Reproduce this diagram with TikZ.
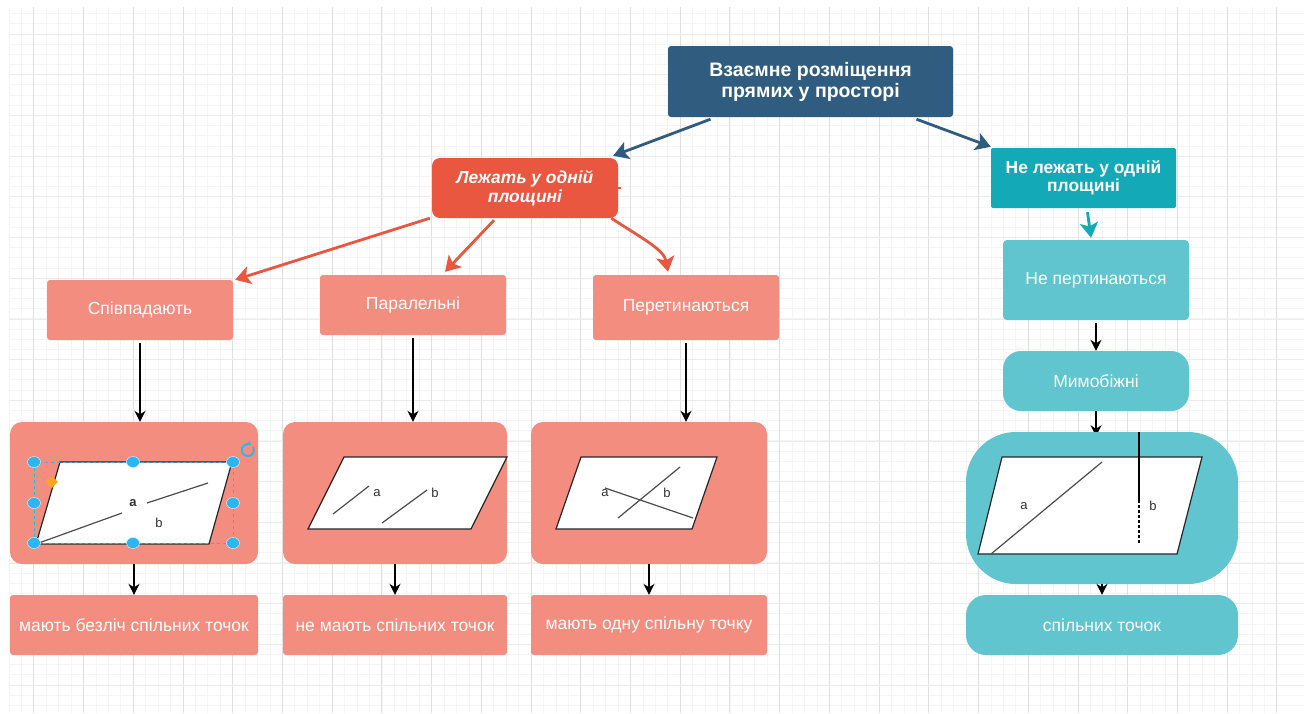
\documentclass[tikz,border=0pt]{standalone}
\usepackage{fontspec}
\setmainfont{Liberation Sans}
\usetikzlibrary{arrows.meta,shapes.geometric}
\definecolor{navy}{HTML}{2F5C7F}
\definecolor{redbox}{HTML}{E95741}
\definecolor{salmon}{HTML}{F28D80}
\definecolor{tealdark}{HTML}{13A9B7}
\definecolor{teallight}{HTML}{60C5CF}
\definecolor{handle}{HTML}{29B6F2}
\definecolor{tipcolor}{HTML}{F9A61A}
\tikzset{
  box/.style={inner sep=0pt,align=center,text=white,font=\fontsize{17.5}{21}\selectfont},
  headbox/.style={box,font=\fontsize{19.5}{21}\selectfont\bfseries},
  saltbox/.style={box,fill=salmon,rounded corners=3pt},
  tealbox/.style={box,fill=teallight},
  plane/.style={draw=black!85,fill=white,line width=1.2pt,line join=miter},
  inplane/.style={draw=black!70,line width=1.2pt},
  lab/.style={inner sep=0pt,text=black!80,font=\fontsize{13}{14}\selectfont},
  thinarrow/.style={-{Stealth[length=11pt,width=11pt]},line width=1.2pt},
  bigarrow/.style={-{Stealth[length=15pt,width=18pt,inset=3.5pt]},line width=2.8pt},
  dot/.style={draw=white!80!handle,fill=handle,ellipse,minimum width=13pt,minimum height=11pt,inner sep=0pt,line width=0.5pt}
}
\begin{document}
\begin{tikzpicture}[x=1pt,y=-1pt]
\useasboundingbox (0,0) rectangle (1304,713);
\fill[white] (0,0) rectangle (1304,713);

% grid
\foreach \k in {0,...,102}{
  \draw[black!4,line width=0.8pt] ({9+12.43*\k},7)--({9+12.43*\k},713);}
\foreach \k in {0,...,69}{
  \draw[black!4,line width=0.8pt] (9,{13.7+10.17*\k})--(1304,{13.7+10.17*\k});}
\foreach \k in {0,...,25}{
  \draw[black!12,line width=0.8pt] ({33.8+49.72*\k},7)--({33.8+49.72*\k},713);}
\foreach \k in {0,...,16}{
  \draw[black!8,line width=0.8pt] (9,{34+40.7*\k})--(1304,{34+40.7*\k});}

% top of the chart
\node[headbox,fill=navy,rounded corners=3pt,minimum width=285pt,minimum height=71pt] (main) at (810.5,81.5) {Взаємне розміщення\\прямих у просторі};
\node[headbox,fill=redbox,rounded corners=8pt,minimum width=186pt,minimum height=60pt,font=\fontsize{17.4}{19}\selectfont\bfseries\itshape] (inplanebox) at (525,188) {\raisebox{-1pt}{Лежать у одній}\\\raisebox{-1pt}{площині}};
\node[headbox,fill=tealdark,rounded corners=2pt,minimum width=185pt,minimum height=60pt,font=\fontsize{17.4}{18}\selectfont\bfseries] (offplanebox) at (1083.5,178) {Не лежать у одній\\площині};

% second row
\node[saltbox,minimum width=186pt,minimum height=60pt] (coincide) at (140,310) {Співпадають};
\node[saltbox,minimum width=186pt,minimum height=60pt] (parallel) at (413,305) {Паралельні};
\node[saltbox,minimum width=186pt,minimum height=65pt] (cross) at (686,307.5) {Перетинаються};
\node[tealbox,rounded corners=4pt,minimum width=186pt,minimum height=80pt] (nocross) at (1096,280) {Не пертинаються};
\node[tealbox,rounded corners=18pt,minimum width=186pt,minimum height=60pt] (skew) at (1096,381) {Мимобіжні};

% panels
\node[saltbox,rounded corners=12pt,minimum width=248pt,minimum height=142pt] (panela) at (134,493) {};
\node[saltbox,rounded corners=12pt,minimum width=224pt,minimum height=142pt] (panelb) at (395,493) {};
\node[saltbox,rounded corners=12pt,minimum width=236pt,minimum height=142pt] (panelc) at (649,493) {};

% bottom row
\node[saltbox,minimum width=248pt,minimum height=60pt] (resa) at (134,625) {мають безліч спільних точок};
\node[saltbox,minimum width=224pt,minimum height=60pt] (resb) at (395,625) {не мають спільних точок};
\node[saltbox,minimum width=236pt,minimum height=60pt] (resc) at (649,625) {мають одну спільну точку};
\node[tealbox,rounded corners=20pt,minimum width=272pt,minimum height=60pt] (resd) at (1102,625) {спільних точок};

% black arrows
\draw[thinarrow] ([yshift=-3pt]coincide.south) -- (coincide.south |- panela.north);
\draw[thinarrow] ([yshift=-3pt]parallel.south) -- (parallel.south |- panelb.north);
\draw[thinarrow] ([yshift=-3pt]cross.south) -- (cross.south |- panelc.north);
\draw[thinarrow] ([yshift=-3pt]nocross.south) -- (skew.north);
\draw[thinarrow] (skew.south) -- ++(0,25);
\draw[thinarrow] (panela.south) -- (resa.north);
\draw[thinarrow] (panelb.south) -- (resb.north);
\draw[thinarrow] (panelc.south) -- (resc.north);

\node[tealbox,rounded corners=50pt,minimum width=272pt,minimum height=152pt] (paneld) at (1102,508) {};
\draw[thinarrow] (paneld.south) -- (resd.north);

% coloured arrows
\draw[bigarrow,navy] ([xshift=-100pt,yshift=-2pt]main.south) -- ([xshift=-5pt,yshift=2pt]inplanebox.north east);
\draw[bigarrow,navy] ([xshift=106pt,yshift=-2pt]main.south) -- ([yshift=1pt]offplanebox.north west);
\draw[bigarrow,redbox] ([xshift=-2pt]inplanebox.south west) -- ([xshift=2pt]coincide.north east);
\draw[bigarrow,redbox] ([xshift=-31pt,yshift=-2pt]inplanebox.south) -- ([xshift=32pt,yshift=3pt]parallel.north);
\draw[bigarrow,redbox] ([xshift=-7pt]inplanebox.south east) .. controls (645,240) and (664,250) .. ([xshift=-18pt,yshift=3pt]cross.north);
\draw[line width=1.6pt,redbox] (inplanebox.east) -- ++(3,0);
\draw[bigarrow,tealdark] ([xshift=4pt,yshift=-4pt]offplanebox.south) -- ([xshift=-5pt,yshift=2pt]nocross.north);

% plane of the first panel
\draw[plane] (36,544)--(60,462)--(232,462)--(209,544)--cycle;
\draw[inplane] (36,544)--(122,513);
\draw[inplane] (147,503)--(208,483);
\node[lab,font=\fontsize{13}{14}\selectfont\bfseries] (la) at (133,503) {a};
\node[lab] (lb) at (159,523) {b};
\draw[handle,dashed,line width=0.9pt] (34,462) rectangle (233,543);
\foreach \px/\py in {34/462,133/462,233/462,34/503,233/503,34/543,133/543,233/543}{
  \node[dot] at (\px,\py) {};}
\node[diamond,fill=tipcolor,minimum size=12pt,inner sep=0pt] (tip) at (52,482) {};
\draw[handle,line width=1.8pt,-{Stealth[length=4pt,width=6pt]}] (253,447) arc (30:-300:6pt);

% plane of the second panel
\draw[plane] (344,457)--(507,457)--(471,529)--(308,529)--cycle;
\draw[inplane] (333,514)--(369,486);
\draw[inplane] (382,523)--(427,490);
\node[lab] (pa) at (377,493) {a};
\node[lab] (pb) at (435,493) {b};

% plane of the third panel
\draw[plane] (581,457)--(717,457)--(692,529)--(556,529)--cycle;
\draw[inplane] (605,488)--(693,518);
\draw[inplane] (618,518)--(680,467);
\node[lab] (ca) at (605,493) {a};
\node[lab] (cb) at (667,493) {b};

% plane of the fourth panel
\draw[plane] (1002,457)--(1202,457)--(1177,554)--(978,554)--cycle;
\draw[inplane] (991,554)--(1102,462);
\draw[black,line width=1.3pt] (1139,432)--(1139,500);
\draw[black,line width=1.3pt,densely dashed] (1139,500)--(1139,544);
\node[lab] (sa) at (1024,506) {a};
\node[lab] (sb) at (1153,506) {b};
\end{tikzpicture}
\end{document}
